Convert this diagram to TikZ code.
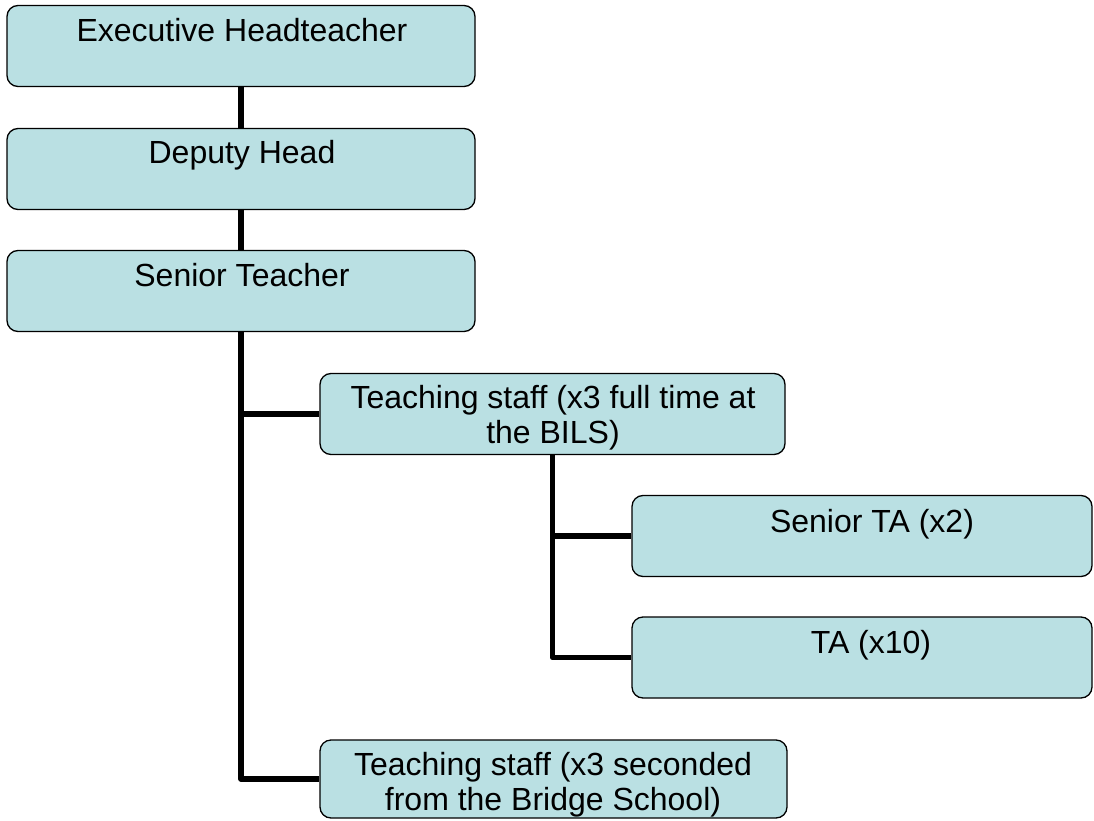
\documentclass[tikz,border=0pt]{standalone}
\usepackage{fontspec}
\setmainfont{Liberation Sans}
\definecolor{boxfill}{RGB}{186,224,227}
\begin{document}
\begin{tikzpicture}[x=1pt,y=-1pt,
  orgbox/.style={draw=black, line width=1.3pt, fill=boxfill, rounded corners=11pt,
    inner sep=0pt, minimum height=81pt},
  wide/.style={minimum width=468pt},
  wider/.style={minimum width=460pt},
  lbl/.style={anchor=base, inner sep=0pt, align=center,
    font=\fontsize{32}{35}\selectfont},
  link/.style={line width=5.5pt, line join=round}]
\useasboundingbox (0,0) rectangle (1094,821);

% boxes
\node[orgbox, wide]  (exec)   at (241,46)  {};
\node[orgbox, wide]  (deputy) at (241,169) {};
\node[orgbox, wide]  (senior) at (241,291) {};
\node[orgbox, minimum width=465pt] (bils)   at (552.5,414) {};
\node[orgbox, wider] (sta)    at (862,536) {};
\node[orgbox, wider] (ta)     at (862,657.5) {};
\node[orgbox, minimum width=467pt, minimum height=78pt] (bridge) at (553.5,779) {};

% connectors
\draw[link] (exec.south) -- (deputy.north);
\draw[link] (deputy.south) -- (senior.north);
\draw[link] (senior.south) |- (bils.west);
\draw[link] (senior.south) |- (bridge.west);
\draw[link] (bils.south) |- (sta.west);
\draw[link] (bils.south) |- (ta.west);

% labels (anchor base = baseline of the last line)
\node[lbl] (execT)   at (242,42)  {Executive Headteacher};
\node[lbl] (deputyT) at (242,164) {Deputy Head};
\node[lbl] (seniorT) at (242,286) {Senior Teacher};
\node[lbl] (bilsT)   at (553,443) {Teaching staff (x3 full time at\\the BILS)};
\node[lbl] (staT)    at (872,532) {Senior TA (x2)};
\node[lbl] (taT)     at (871,653) {TA (x10)};
\node[lbl] (bridgeT) at (553,810) {Teaching staff (x3 seconded\\from the Bridge School)};
\end{tikzpicture}
\end{document}
